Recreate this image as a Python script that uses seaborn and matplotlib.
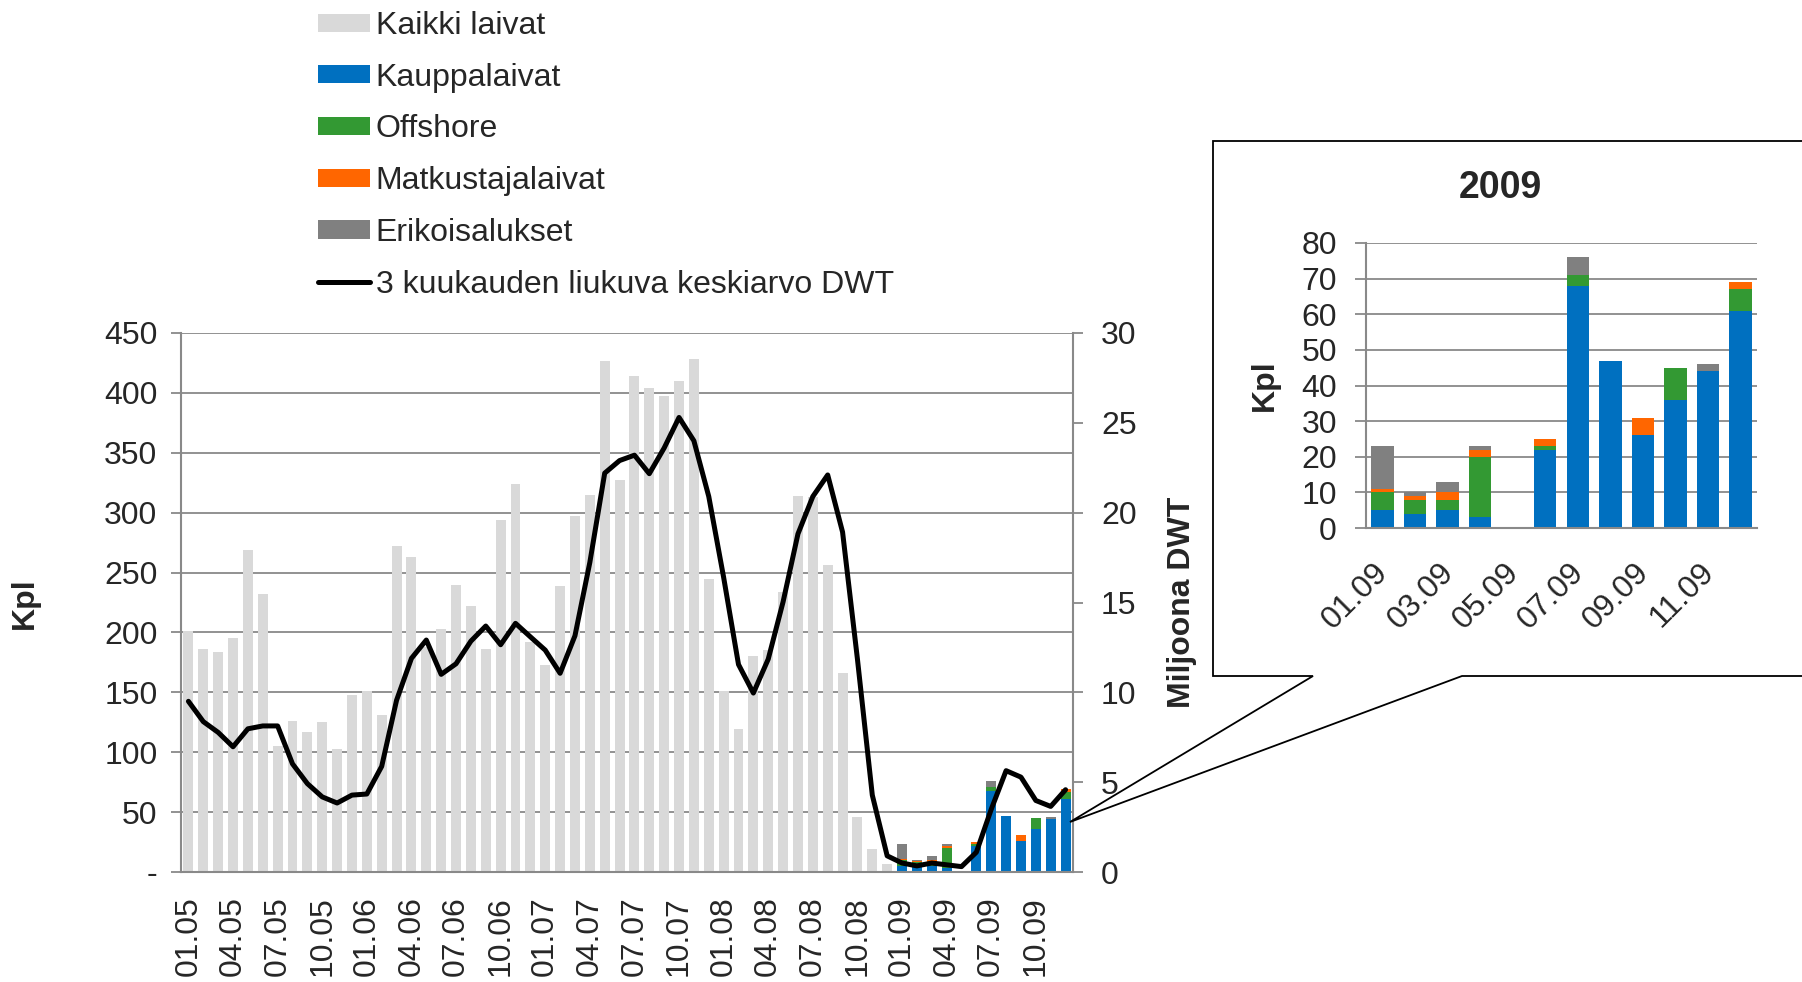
import numpy as np
import pandas as pd
import matplotlib
matplotlib.use("Agg")
import matplotlib.pyplot as plt
import matplotlib.transforms as mtransforms
from matplotlib.patches import Patch, Polygon
from matplotlib.lines import Line2D
from matplotlib.ticker import FixedLocator
import seaborn as sns

# ---------------- data ----------------
months = [
    "01.05", "02.05", "03.05", "04.05", "05.05", "06.05", "07.05", "08.05", "09.05", "10.05", "11.05", "12.05",
    "01.06", "02.06", "03.06", "04.06", "05.06", "06.06", "07.06", "08.06", "09.06", "10.06", "11.06", "12.06",
    "01.07", "02.07", "03.07", "04.07", "05.07", "06.07", "07.07", "08.07", "09.07", "10.07", "11.07", "12.07",
    "01.08", "02.08", "03.08", "04.08", "05.08", "06.08", "07.08", "08.08", "09.08", "10.08", "11.08", "12.08",
    "01.09", "02.09", "03.09", "04.09", "05.09", "06.09", "07.09", "08.09", "09.09", "10.09", "11.09", "12.09",
]
main_tick_labels = ["01.05", "04.05", "07.05", "10.05", "01.06", "04.06", "07.06", "10.06",
                    "01.07", "04.07", "07.07", "10.07", "01.08", "04.08", "07.08", "10.08",
                    "01.09", "04.09", "07.09", "10.09"]

# Kaikki laivat, 01.05 - 12.08 (kpl)
kaikki_laivat = [201, 186, 184, 195, 269, 232, 105, 126, 117, 125, 103, 148,
                 151, 131, 272, 263, 188, 203, 240, 222, 186, 294, 324, 192,
                 173, 239, 297, 315, 427, 327, 414, 404, 397, 410, 428, 245,
                 151, 119, 180, 185, 234, 314, 313, 256, 166, 46, 19, 7]

# 2009 by type (kpl)
months_2009 = ["01.09", "02.09", "03.09", "04.09", "05.09", "06.09",
               "07.09", "08.09", "09.09", "10.09", "11.09", "12.09"]
inset_tick_labels = ["01.09", "03.09", "05.09", "07.09", "09.09", "11.09"]
kauppalaivat = [5, 4, 5, 3, 0, 22, 68, 47, 26, 36, 44, 61]
offshore = [5, 4, 3, 17, 0, 1, 3, 0, 0, 9, 0, 6]
matkustajalaivat = [1, 1, 2, 2, 0, 2, 0, 0, 5, 0, 0, 2]
erikoisalukset = [12, 1, 3, 1, 0, 0, 5, 0, 0, 0, 2, 0]

# 3 kuukauden liukuva keskiarvo DWT (milj.)
dwt_3kk = [9.5, 8.37, 7.77, 6.97, 7.97, 8.13, 8.13, 6.02, 4.92, 4.18, 3.84, 4.28,
           4.34, 5.88, 9.56, 11.89, 12.91, 11.0, 11.59, 12.85, 13.69, 12.65, 13.84, 13.09,
           12.35, 11.06, 13.15, 17.23, 22.2, 22.9, 23.2, 22.17, 23.6, 25.3, 24.0, 20.9,
           16.4, 11.55, 9.96, 11.85, 15.04, 18.82, 20.9, 22.1, 18.92, 11.85, 4.28, 0.9,
           0.5, 0.34, 0.5, 0.4, 0.3, 1.1, 3.49, 5.64, 5.28, 3.98, 3.65, 4.58]

legend_labels = ["Kaikki laivat", "Kauppalaivat", "Offshore", "Matkustajalaivat",
                 "Erikoisalukset", "3 kuukauden liukuva keskiarvo DWT"]

# ---------------- style ----------------
C_ALL = "#D9D9D9"
C_BLUE = "#0070C0"
C_GREEN = "#339933"
C_ORANGE = "#FF6600"
C_GRAY = "#808080"
C_GRID = "#898989"

sns.set_style("white")
plt.rcParams["font.family"] = ["Liberation Sans", "DejaVu Sans"]
FS = 23

W, H = 1802, 982
fig = plt.figure(figsize=(W / 100, H / 100), dpi=100)


def fx(px):
    return px / W


def fy(py):
    return 1 - py / H


# ---------------- build tables ----------------
n_before = len(months) - len(months_2009)
pad = [0] * n_before
s_blue = np.array(pad + kauppalaivat, dtype=float)
s_green = s_blue + np.array(pad + offshore, dtype=float)
s_orange = s_green + np.array(pad + matkustajalaivat, dtype=float)
s_gray = s_orange + np.array(pad + erikoisalukset, dtype=float)
df = pd.DataFrame({
    "kk": months,
    "kaikki": kaikki_laivat + [0] * len(months_2009),
    "blue": s_blue, "green": s_green, "orange": s_orange, "gray": s_gray,
})

i_blue = np.array(kauppalaivat, dtype=float)
i_green = i_blue + np.array(offshore, dtype=float)
i_orange = i_green + np.array(matkustajalaivat, dtype=float)
i_gray = i_orange + np.array(erikoisalukset, dtype=float)
df9 = pd.DataFrame({"kk": months_2009, "blue": i_blue, "green": i_green,
                    "orange": i_orange, "gray": i_gray})

# ---------------- main chart ----------------
ax = fig.add_axes([fx(181), fy(872), fx(1073) - fx(181), fy(333) - fy(872)])
bar_kw = dict(saturation=1, errorbar=None, linewidth=0, edgecolor="none", ax=ax)
sns.barplot(data=df, x="kk", y="kaikki", order=months, color=C_ALL, width=0.67, **bar_kw)
for col, c in [("gray", C_GRAY), ("orange", C_ORANGE), ("green", C_GREEN), ("blue", C_BLUE)]:
    sns.barplot(data=df, x="kk", y=col, order=months, color=c, width=0.67, **bar_kw)

ax.set_ylim(0, 450)
ax.set_yticks(np.arange(0, 451, 50))
ax.set_yticklabels(["-"] + [str(v) for v in range(50, 451, 50)])
ax.set_xlim(-0.5, len(months) - 0.5)
ax.set_xticks(np.arange(0, len(months), 3))
ax.set_xticklabels(main_tick_labels)
ax.xaxis.set_minor_locator(FixedLocator(np.arange(-0.5, len(months), 1)))
ax.tick_params(axis="x", which="major", length=0, pad=17.5, rotation=90, labelsize=FS)
ax.tick_params(axis="x", which="minor", length=6, width=1.3, color=C_GRID)
ax.tick_params(axis="y", which="major", left=True, length=7.5, width=1.3, color=C_GRID,
               pad=9.5, labelsize=FS)
ax.grid(axis="y", color=C_GRID, linewidth=1.3)
ax.grid(axis="x", visible=False)
ax.set_axisbelow(True)
for s in ["top", "right"]:
    ax.spines[s].set_visible(False)
for s in ["left", "bottom"]:
    ax.spines[s].set_color(C_GRID)
    ax.spines[s].set_linewidth(1.5)
ax.set_xlabel("")
ax.set_ylabel("")

ax2 = ax.twinx()
sns.lineplot(x=np.arange(len(months)), y=dwt_3kk, ax=ax2, color="black", linewidth=3.6)
ax2.set_ylim(0, 30)
ax2.set_yticks(np.arange(0, 31, 5))
ax2.set_xlim(-0.5, len(months) - 0.5)
ax2.tick_params(axis="y", right=True, length=7.5, width=1.3, color=C_GRID, pad=12.7, labelsize=FS)
ax2.grid(False)
for s in ["top", "left", "bottom"]:
    ax2.spines[s].set_visible(False)
ax2.spines["right"].set_color(C_GRID)
ax2.spines["right"].set_linewidth(1.5)
ax2.set_ylabel("")

fig.text(fx(25), fy(603), "Kpl", rotation=90, ha="center", va="center",
         fontsize=FS, fontweight="bold")
fig.text(fx(1182), fy(602), "Miljoona DWT", rotation=90, ha="center", va="center",
         fontsize=FS, fontweight="bold")

# ---------------- callout box ----------------
pts = [(1810, 141), (1213, 141), (1213, 676), (1313, 676), (1070, 822),
       (1462, 676), (1810, 676)]
poly = Polygon([(fx(x), fy(y)) for x, y in pts], closed=False, fill=False,
               edgecolor="black", linewidth=1.3, transform=fig.transFigure)
fig.add_artist(poly)

# ---------------- inset ----------------
axi = fig.add_axes([fx(1366), fy(528), fx(1757) - fx(1366), fy(243) - fy(528)])
ibar_kw = dict(saturation=1, errorbar=None, linewidth=0, edgecolor="none", ax=axi)
for col, c in [("gray", C_GRAY), ("orange", C_ORANGE), ("green", C_GREEN), ("blue", C_BLUE)]:
    sns.barplot(data=df9, x="kk", y=col, order=months_2009, color=c, width=0.69, **ibar_kw)
axi.set_ylim(0, 80)
axi.set_yticks(np.arange(0, 81, 10))
axi.set_xlim(-0.5, len(months_2009) - 0.5)
axi.set_xticks(np.arange(0, len(months_2009), 2))
axi.set_xticklabels(inset_tick_labels, rotation=45, ha="right", va="top",
                    rotation_mode="anchor")
axi.xaxis.set_minor_locator(FixedLocator(np.arange(-0.5, len(months_2009), 1)))
axi.tick_params(axis="x", which="major", length=0, pad=21, labelsize=FS)
axi.tick_params(axis="x", which="minor", length=6.5, width=1.3, color=C_GRID)
axi.tick_params(axis="y", left=True, length=8, width=1.3, color=C_GRID, pad=13, labelsize=FS)
axi.grid(axis="y", color=C_GRID, linewidth=1.3)
axi.grid(axis="x", visible=False)
axi.set_axisbelow(True)
for s in ["top", "right"]:
    axi.spines[s].set_visible(False)
for s in ["left", "bottom"]:
    axi.spines[s].set_color(C_GRID)
    axi.spines[s].set_linewidth(1.5)
axi.set_xlabel("")
axi.set_ylabel("")
shift = mtransforms.ScaledTranslation(-0.09, 0, fig.dpi_scale_trans)
for lbl in axi.get_xticklabels():
    lbl.set_transform(lbl.get_transform() + shift)

fig.text(fx(1500), fy(188), "2009", ha="center", va="center", fontsize=27, fontweight="bold")
fig.text(fx(1265), fy(385), "Kpl", rotation=90, ha="center", va="center",
         fontsize=FS, fontweight="bold")

# ---------------- legend ----------------
handles = [Patch(facecolor=C_ALL, edgecolor="none"),
           Patch(facecolor=C_BLUE, edgecolor="none"),
           Patch(facecolor=C_GREEN, edgecolor="none"),
           Patch(facecolor=C_ORANGE, edgecolor="none"),
           Patch(facecolor=C_GRAY, edgecolor="none"),
           Line2D([], [], color="black", linewidth=3.6)]
fig.legend(handles, legend_labels, loc="upper left", bbox_to_anchor=(fx(318), fy(11)),
           frameon=False, borderpad=0, borderaxespad=0, fontsize=FS,
           handlelength=1.63, handleheight=0.5, handletextpad=0.175, labelspacing=0.68)

fig.savefig("out.png", dpi=100)
